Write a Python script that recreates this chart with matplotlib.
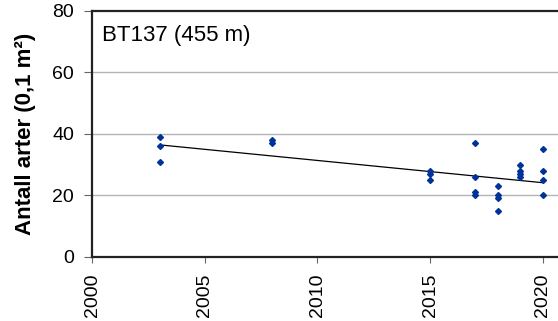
import matplotlib
matplotlib.use("Agg")
import matplotlib.pyplot as plt
import numpy as np

plt.rcParams['font.family'] = ['Liberation Sans', 'DejaVu Sans']

# survey years and number of species per sample (0.1 m2 grab)
years = [2003, 2003, 2003,
         2008, 2008,
         2015, 2015, 2015,
         2017, 2017, 2017, 2017,
         2018, 2018, 2018, 2018,
         2019, 2019, 2019, 2019,
         2020, 2020, 2020, 2020]
species = [39, 36, 31,
           38, 37,
           28, 27, 25,
           37, 26, 21, 20,
           23, 20, 19, 15,
           30, 28, 27, 26,
           35, 28, 25, 20]
station = "BT137 (455 m)"
xticks = [2000, 2005, 2010, 2015, 2020]
yticks = [0, 20, 40, 60, 80]

x = np.array(years)
y = np.array(species)

# linear trend
k, m = np.polyfit(x, y, 1)
x_fit = np.array([x.min(), x.max()])
y_fit = k * x_fit + m

fig = plt.figure(figsize=(5.58, 3.21), dpi=100)
ax = fig.add_axes([0.165, 0.2, 0.835, 0.766])

for yy in [20, 40, 60]:
    ax.axhline(yy, color="#b4b4b4", lw=1.0, zorder=0)

ax.plot(x_fit, y_fit, color="black", lw=0.9, zorder=2)
ax.plot(x, y, linestyle="none", marker="D", markersize=3,
        color="#003399", zorder=3)

ax.set_xlim(2000, 2020.67)
ax.set_ylim(0, 80)
ax.set_xticks(xticks)
ax.set_yticks(yticks)
ax.set_xticklabels([str(t) for t in xticks], rotation=90, fontsize=14)
ax.set_yticklabels([str(t) for t in yticks], fontsize=14)
ax.tick_params(axis="y", direction="out", length=6, width=0.8,
               color="#666666", pad=7)
ax.tick_params(axis="x", direction="out", length=4, width=0.8,
               color="#666666", pad=8)

for side in ["left", "bottom", "top"]:
    ax.spines[side].set_linewidth(1.6)
    ax.spines[side].set_color("#222222")
ax.spines["right"].set_visible(False)

ax.set_ylabel("Antall arter (0,1 m²)", fontsize=16, fontweight="bold")
ax.yaxis.set_label_coords(-0.12, 0.5)
ax.text(0.021, 0.898, station, transform=ax.transAxes, fontsize=16,
        ha="left", va="center")

fig.savefig("out.png", dpi=100)
